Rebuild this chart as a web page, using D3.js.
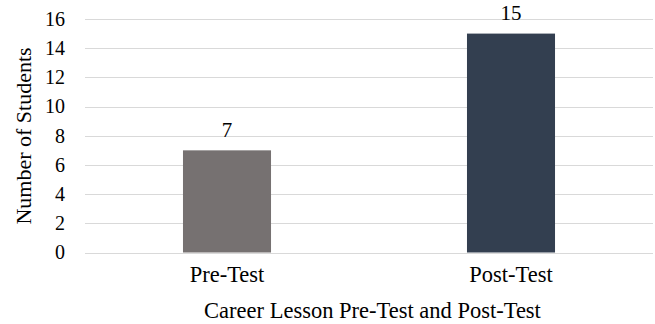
<!DOCTYPE html>
<html>
<head>
<meta charset="utf-8">
<script src="https://cdn.jsdelivr.net/npm/d3@7"></script>
<style>
  html, body { margin: 0; padding: 0; background: #ffffff; }
  svg { display: block; }
  text { font-family: "Liberation Serif", "Times New Roman", serif; fill: #000; }
</style>
</head>
<body>
<svg id="chart" width="655" height="324"></svg>
<script>
// Student counts for the career lesson tests
const categories = ["Pre-Test", "Post-Test"];
const students = [7, 15];
const barColors = ["#767171", "#333f50"];
const yTicks = [0, 2, 4, 6, 8, 10, 12, 14, 16];
const xTitle = "Career Lesson Pre-Test and Post-Test";
const yTitle = "Number of Students";

const svg = d3.select("#chart");
const plot = { left: 85, right: 653, top: 19, bottom: 252.5 };

const x = d3.scaleBand()
  .domain(categories)
  .range([plot.left, plot.right])
  .paddingInner(0.69)
  .paddingOuter(0.345);

const y = d3.scaleLinear()
  .domain([0, 16])
  .range([plot.bottom, plot.top]);

// horizontal gridlines
svg.append("g")
  .selectAll("line")
  .data(yTicks)
  .join("line")
  .attr("x1", plot.left)
  .attr("x2", plot.right)
  .attr("y1", d => Math.round(y(d)) + 0.5)
  .attr("y2", d => Math.round(y(d)) + 0.5)
  .attr("stroke", "#d9d9d9")
  .attr("stroke-width", 1);

// y axis tick labels
const yAxis = d3.axisLeft(y).tickValues(yTicks).tickSize(0).tickPadding(20);
svg.append("g")
  .attr("transform", `translate(${plot.left},0)`)
  .call(yAxis)
  .call(g => g.select(".domain").remove())
  .selectAll("text")
  .attr("font-family", "Liberation Serif, Times New Roman, serif")
  .attr("font-size", 20)
  .attr("fill", "#000");

// bars
svg.append("g")
  .selectAll("rect")
  .data(categories)
  .join("rect")
  .attr("x", d => x(d))
  .attr("width", x.bandwidth())
  .attr("y", (d, i) => y(students[i]))
  .attr("height", (d, i) => y(0) - y(students[i]))
  .attr("fill", (d, i) => barColors[i]);

// value labels
svg.append("g")
  .selectAll("text")
  .data(categories)
  .join("text")
  .attr("x", d => x(d) + x.bandwidth() / 2)
  .attr("y", (d, i) => y(students[i]) - 13.5)
  .attr("text-anchor", "middle")
  .attr("font-size", 21)
  .text((d, i) => students[i]);

// x axis category labels
const xAxis = d3.axisBottom(x).tickSize(0).tickPadding(14);
svg.append("g")
  .attr("transform", `translate(0,${plot.bottom})`)
  .call(xAxis)
  .call(g => g.select(".domain").remove())
  .selectAll("text")
  .attr("font-family", "Liberation Serif, Times New Roman, serif")
  .attr("font-size", 22.5)
  .attr("fill", "#000");

// axis titles
svg.append("text")
  .attr("x", 372.5)
  .attr("y", 318)
  .attr("text-anchor", "middle")
  .attr("font-size", 22.5)
  .text(xTitle);

svg.append("text")
  .attr("transform", `translate(31,136) rotate(-90)`)
  .attr("text-anchor", "middle")
  .attr("font-size", 22)
  .text(yTitle);
</script>
</body>
</html>
